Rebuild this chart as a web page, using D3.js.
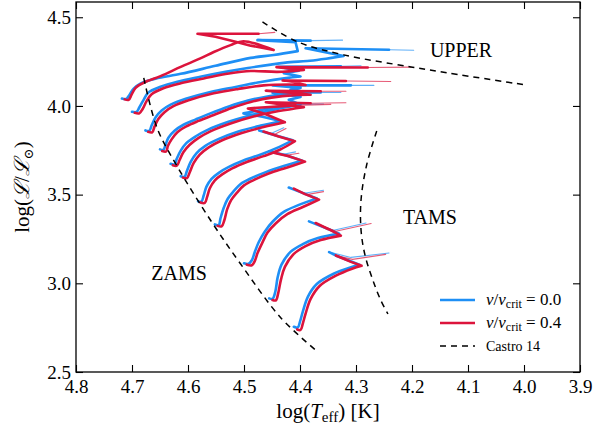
<!DOCTYPE html>
<html><head><meta charset="utf-8">
<script src="https://cdn.jsdelivr.net/npm/d3@7"></script>
<style>
body{margin:0;background:#fff}
svg{display:block}
text{font-family:"Liberation Serif","DejaVu Serif",serif;fill:#000}
</style>
</head><body>
<svg id="c" width="593" height="432"></svg>
<script>
// ---------- data (log Teff, log L/Lsun) ----------
const xTicks = [4.8,4.7,4.6,4.5,4.4,4.3,4.2,4.1,4.0,3.9];
const yTicks = [2.5,3.0,3.5,4.0,4.5];

const zamsCastro = [[4.679,4.158],[4.655,3.874],[4.619,3.658],[4.560,3.357],[4.506,3.109],[4.434,2.805],[4.370,2.618]];
const tamsCastro = [[4.263,3.859],[4.281,3.667],[4.291,3.470],[4.291,3.300],[4.284,3.160],[4.270,3.019],[4.256,2.906],[4.243,2.827]];
const upperCastro = [[4.467,4.474],[4.404,4.361],[4.322,4.288],[4.202,4.220],[4.136,4.186],[3.996,4.118]];

// v/vcrit = 0.0 : main-sequence + hook (thick) and post-MS tail (thin)
const blueMS = [
 [[4.718,4.042],[4.710,4.040],[4.704,4.065],[4.697,4.098],[4.685,4.126],[4.658,4.154],[4.613,4.181],[4.551,4.226],[4.488,4.271],[4.447,4.287],[4.404,4.309],[4.408,4.360],[4.476,4.371],[4.381,4.368]],
 [[4.700,3.967],[4.692,3.966],[4.687,3.991],[4.679,4.036],[4.671,4.075],[4.649,4.108],[4.619,4.136],[4.578,4.164],[4.533,4.192],[4.493,4.214],[4.452,4.233],[4.417,4.247],[4.387,4.253],[4.322,4.282],[4.390,4.325],[4.241,4.317]],
 [[4.676,3.862],[4.669,3.860],[4.665,3.890],[4.658,3.935],[4.647,3.974],[4.631,4.007],[4.604,4.040],[4.560,4.079],[4.515,4.107],[4.470,4.135],[4.425,4.157],[4.399,4.166],[4.429,4.185],[4.402,4.199],[4.438,4.221],[4.327,4.224]],
 [[4.650,3.755],[4.644,3.752],[4.640,3.782],[4.635,3.821],[4.624,3.860],[4.608,3.894],[4.586,3.924],[4.560,3.958],[4.527,3.997],[4.493,4.030],[4.456,4.055],[4.417,4.072],[4.388,4.077],[4.417,4.091],[4.399,4.102],[4.449,4.116],[4.309,4.116]],
 [[4.631,3.674],[4.624,3.671],[4.620,3.703],[4.613,3.748],[4.603,3.790],[4.586,3.829],[4.565,3.865],[4.529,3.909],[4.488,3.948],[4.443,3.982],[4.399,4.007],[4.420,4.035],[4.399,4.051],[4.449,4.074],[4.363,4.076]],
 [[4.613,3.604],[4.606,3.601],[4.602,3.633],[4.595,3.686],[4.585,3.733],[4.569,3.775],[4.545,3.814],[4.510,3.856],[4.470,3.889],[4.433,3.914],[4.467,3.939],[4.501,3.958],[4.417,4.009]],
 [[4.582,3.463],[4.576,3.461],[4.572,3.495],[4.567,3.545],[4.558,3.589],[4.545,3.623],[4.527,3.656],[4.501,3.692],[4.470,3.726],[4.442,3.762],[4.413,3.806],[4.443,3.834],[4.473,3.862]],
 [[4.552,3.332],[4.545,3.329],[4.542,3.366],[4.536,3.427],[4.529,3.477],[4.518,3.521],[4.506,3.560],[4.488,3.591],[4.461,3.627],[4.429,3.661],[4.396,3.691],[4.425,3.722],[4.455,3.744]],
 [[4.500,3.113],[4.492,3.110],[4.486,3.130],[4.481,3.174],[4.474,3.230],[4.463,3.291],[4.449,3.347],[4.429,3.403],[4.402,3.442],[4.370,3.478],[4.399,3.514],[4.420,3.540]],
 [[4.455,2.915],[4.449,2.913],[4.444,2.954],[4.440,3.032],[4.433,3.105],[4.417,3.177],[4.395,3.221],[4.368,3.255],[4.330,3.280],[4.354,3.311],[4.384,3.349]],
 [[4.411,2.755],[4.404,2.751],[4.400,2.784],[4.395,2.840],[4.386,2.924],[4.370,2.996],[4.340,3.054],[4.309,3.090],[4.293,3.104],[4.313,3.129],[4.334,3.154],[4.348,3.176]]
];
const blueTail = [
 [[4.381,4.368],[4.324,4.371]],
 [[4.241,4.317],[4.197,4.314]],
 [[4.327,4.224],[4.291,4.227]],
 [[4.309,4.116],[4.268,4.116]],
 [[4.363,4.076],[4.327,4.076]],
 [[4.417,4.009],[4.358,4.011]],
 [[4.473,3.862],[4.452,3.845],[4.429,3.877]],
 [[4.455,3.744],[4.434,3.725],[4.408,3.741]],
 [[4.420,3.540],[4.393,3.508],[4.358,3.525]],
 [[4.384,3.349],[4.340,3.299],[4.282,3.340]],
 [[4.348,3.176],[4.309,3.146],[4.241,3.171]]
];

// v/vcrit = 0.4
const redMS = [
 [[4.713,4.037],[4.706,4.034],[4.701,4.062],[4.694,4.101],[4.679,4.131],[4.649,4.168],[4.613,4.220],[4.578,4.268],[4.554,4.304],[4.524,4.343],[4.501,4.365],[4.447,4.315],[4.488,4.340],[4.515,4.362],[4.551,4.390],[4.583,4.407],[4.474,4.407]],
 [[4.695,3.961],[4.687,3.958],[4.681,3.983],[4.674,4.027],[4.665,4.066],[4.644,4.100],[4.613,4.128],[4.572,4.155],[4.527,4.183],[4.488,4.197],[4.440,4.192],[4.393,4.203],[4.442,4.219],[4.279,4.217]],
 [[4.671,3.854],[4.664,3.851],[4.660,3.882],[4.653,3.926],[4.642,3.965],[4.626,3.999],[4.599,4.032],[4.554,4.071],[4.510,4.096],[4.465,4.116],[4.420,4.121],[4.390,4.118],[4.411,4.135],[4.431,4.143],[4.318,4.141]],
 [[4.646,3.746],[4.639,3.743],[4.636,3.774],[4.629,3.813],[4.619,3.852],[4.603,3.885],[4.581,3.916],[4.554,3.949],[4.522,3.988],[4.488,4.022],[4.451,4.047],[4.411,4.061],[4.381,4.063],[4.417,4.075],[4.461,4.086],[4.363,4.083]],
 [[4.627,3.666],[4.620,3.663],[4.615,3.695],[4.608,3.740],[4.597,3.781],[4.581,3.820],[4.560,3.857],[4.524,3.901],[4.483,3.940],[4.438,3.971],[4.393,3.993],[4.429,4.007],[4.461,4.021],[4.381,4.015]],
 [[4.609,3.596],[4.602,3.593],[4.597,3.625],[4.590,3.677],[4.579,3.725],[4.563,3.766],[4.540,3.805],[4.504,3.847],[4.465,3.881],[4.427,3.908],[4.461,3.953],[4.493,3.986],[4.408,4.003]],
 [[4.578,3.456],[4.570,3.453],[4.566,3.486],[4.561,3.536],[4.552,3.581],[4.539,3.614],[4.521,3.648],[4.495,3.684],[4.465,3.717],[4.436,3.753],[4.409,3.801],[4.438,3.828],[4.465,3.856]],
 [[4.547,3.324],[4.540,3.321],[4.535,3.357],[4.530,3.418],[4.523,3.469],[4.512,3.513],[4.500,3.552],[4.482,3.583],[4.456,3.619],[4.424,3.652],[4.391,3.686],[4.420,3.716],[4.447,3.736]],
 [[4.495,3.105],[4.486,3.102],[4.481,3.124],[4.476,3.169],[4.468,3.224],[4.458,3.286],[4.443,3.339],[4.422,3.391],[4.395,3.430],[4.366,3.472],[4.391,3.503],[4.411,3.534]],
 [[4.449,2.906],[4.443,2.904],[4.439,2.943],[4.434,3.021],[4.427,3.093],[4.411,3.166],[4.390,3.210],[4.363,3.244],[4.327,3.269],[4.349,3.305],[4.372,3.340]],
 [[4.405,2.740],[4.399,2.737],[4.395,2.773],[4.390,2.829],[4.381,2.912],[4.365,2.985],[4.336,3.043],[4.307,3.082],[4.290,3.099],[4.309,3.121],[4.336,3.157]]
];
const redTail = [
 [[4.474,4.407],[4.445,4.415]],
 [[4.279,4.217],[4.202,4.219]],
 [[4.318,4.141],[4.238,4.138]],
 [[4.363,4.083],[4.318,4.083]],
 [[4.381,4.015],[4.318,4.018]],
 [[4.408,4.003],[4.345,4.009]],
 [[4.465,3.856],[4.445,3.840],[4.425,3.873]],
 [[4.447,3.736],[4.425,3.722],[4.402,3.733]],
 [[4.411,3.534],[4.388,3.500],[4.358,3.517]],
 [[4.372,3.340],[4.336,3.294],[4.273,3.337]],
 [[4.336,3.157],[4.306,3.135],[4.247,3.163]]
];

const regionNames = ["UPPER","TAMS","ZAMS"];
const regionAt = [[4.1125,4.275],[4.168,3.336],[4.616,3.020]];

// ---------- drawing ----------
const svg = d3.select("#c");
const L=76, R=580, T=2, B=372;
const x = d3.scaleLinear().domain([4.8,3.9]).range([L,R]);
const y = d3.scaleLinear().domain([2.5,4.586]).range([B,T]);
const BLUE="#1e8ff5", RED="#dc143c";
const SERIF='"Liberation Serif","DejaVu Serif",serif';

svg.append("defs").append("clipPath").attr("id","clip")
  .append("rect").attr("x",L).attr("y",T).attr("width",R-L).attr("height",B-T);
const plot = svg.append("g").attr("clip-path","url(#clip)");

const smooth = d3.line().x(d=>x(d[0])).y(d=>y(d[1])).curve(d3.curveCatmullRom.alpha(0.5));
const straight = d3.line().x(d=>x(d[0])).y(d=>y(d[1]));
// smooth main-sequence part up to the first turning point (coolest point), straight hook after it
function trackPath(d){
  let k = d.length-1;
  for(let i=1;i<d.length-1;i++){ if(d[i+1][0] > d[i][0] && i>2){ k=i; break; } }
  const a = smooth(d.slice(0,k+1));
  const b = k < d.length-1 ? straight(d.slice(k)).replace(/^M[^L]*/, "") : "";
  return a + b;
}

function tracks(data, color, w, op, gen){
  plot.append("g").selectAll("path").data(data).join("path")
    .attr("d", gen).attr("fill","none").attr("stroke",color)
    .attr("stroke-width",w).attr("stroke-opacity",op)
    .attr("stroke-linejoin","round").attr("stroke-linecap","round");
}
tracks(blueMS, BLUE, 2.6, 1, trackPath);
tracks(blueTail, BLUE, 1.1, 0.7, straight);
tracks(redMS, RED, 2.6, 1, trackPath);
tracks(redTail, RED, 1.1, 0.7, straight);

[zamsCastro, tamsCastro, upperCastro].forEach(d=>{
  plot.append("path").attr("d", smooth(d)).attr("fill","none")
    .attr("stroke","#000").attr("stroke-width",1.5).attr("stroke-dasharray","6,5");
});

svg.append("g").selectAll("text").data(regionNames).join("text")
  .attr("x",(d,i)=>x(regionAt[i][0])).attr("y",(d,i)=>y(regionAt[i][1]))
  .attr("text-anchor","middle").attr("font-size",20).text(d=>d);

// axes
const axB = svg.append("g").attr("transform",`translate(0,${B})`)
  .call(d3.axisBottom(x).tickValues(xTicks).tickFormat(d3.format(".1f")).tickSizeInner(-7).tickSizeOuter(0).tickPadding(8));
const axT = svg.append("g").attr("transform",`translate(0,${T})`)
  .call(d3.axisTop(x).tickValues(xTicks).tickFormat("").tickSizeInner(-7).tickSizeOuter(0));
const axL = svg.append("g").attr("transform",`translate(${L},0)`)
  .call(d3.axisLeft(y).tickValues(yTicks).tickFormat(d3.format(".1f")).tickSizeInner(-7).tickSizeOuter(0).tickPadding(5));
const axR = svg.append("g").attr("transform",`translate(${R},0)`)
  .call(d3.axisRight(y).tickValues(yTicks).tickFormat("").tickSizeInner(-7).tickSizeOuter(0));
[axB,axT,axL,axR].forEach(a=>{
  a.attr("font-family",SERIF);
  a.select(".domain").remove();
  a.selectAll("line").attr("stroke","#000").attr("stroke-width",1.1);
  a.selectAll("text").attr("font-size",19).attr("fill","#000");
});
svg.append("rect").attr("x",L).attr("y",T).attr("width",R-L).attr("height",B-T)
  .attr("fill","none").attr("stroke","#000").attr("stroke-width",1.3);

// axis titles
const xt = svg.append("text").attr("x",(L+R)/2).attr("y",418).attr("text-anchor","middle").attr("font-size",21);
xt.append("tspan").text("log(");
xt.append("tspan").attr("font-style","italic").text("T");
xt.append("tspan").attr("font-size",15).attr("dy",4).text("eff");
xt.append("tspan").attr("dy",-4).text(") [K]");

const yt = svg.append("text").attr("transform",`translate(29,${(T+B)/2}) rotate(-90)`)
  .attr("text-anchor","middle").attr("font-size",21);
yt.append("tspan").text("log(");
yt.append("tspan").attr("font-style","italic").text("ℒ");
yt.append("tspan").text("/");
yt.append("tspan").attr("font-style","italic").text("ℒ");
yt.append("tspan").attr("font-size",13).attr("dy",4).text("⊙");
yt.append("tspan").attr("dy",-4).text(")");

// legend
const legendRows = [
  {color:BLUE, dash:null, val:"0.0"},
  {color:RED, dash:null, val:"0.4"},
  {color:"#000", dash:"6,5", val:null}
];
const lg = svg.append("g");
legendRows.forEach((r,i)=>{
  const yy = 300 + i*23;
  lg.append("line").attr("x1",440).attr("x2",475).attr("y1",yy).attr("y2",yy)
    .attr("stroke",r.color).attr("stroke-width", r.dash?1.5:2.6).attr("stroke-dasharray",r.dash);
  const t = lg.append("text").attr("x",486).attr("y",yy+5).attr("font-size",r.val?17:14);
  if(r.val){
    t.append("tspan").attr("font-style","italic").text("v");
    t.append("tspan").text("/");
    t.append("tspan").attr("font-style","italic").text("v");
    t.append("tspan").attr("font-size",12).attr("dy",3).text("crit");
    t.append("tspan").attr("dy",-3).text(" = " + r.val);
  } else {
    t.text("Castro 14");
  }
});
</script>
</body></html>
